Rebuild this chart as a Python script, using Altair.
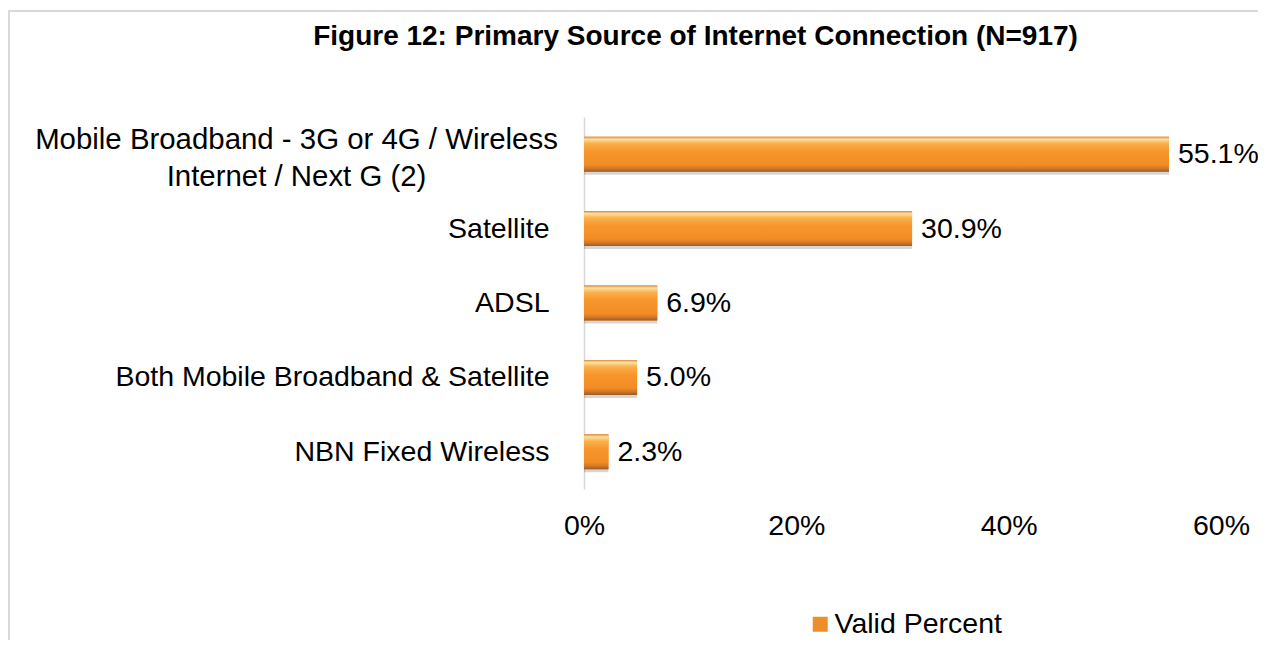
import altair as alt
import pandas as pd

# ---- data ----
categories = [
    "Mobile Broadband - 3G or 4G / Wireless\nInternet /  Next G (2)",
    "Satellite",
    "ADSL",
    "Both Mobile Broadband & Satellite",
    "NBN Fixed Wireless",
]
values = [55.1, 30.9, 6.9, 5.0, 2.3]
series_name = "Valid Percent"
tick_values = [0, 20, 40, 60]
title_text = "Figure 12: Primary Source of Internet Connection (N=917)"

df = pd.DataFrame({
    "cat": categories,
    "v": values,
    "series": [series_name] * len(categories),
})
df["lbl"] = [f"{v:.1f}%" for v in values]

FONT = "Liberation Sans"
FS = 28.5
W, H = 637, 372

yscale = alt.Scale(domain=categories, paddingInner=0.53, paddingOuter=0.265)
xscale = alt.Scale(domain=[0, 60], nice=False, zero=True)
xaxis = alt.Axis(values=tick_values, labelExpr="datum.value + '%'", domain=False,
                 ticks=False, grid=False, labelPadding=22, labelFontSize=FS,
                 labelFont=FONT, labelColor="black", labelFlush=False, title=None)
X = alt.X("v:Q", scale=xscale, axis=xaxis)

def Y(axis=None):
    return alt.Y("cat:N", scale=yscale, axis=axis)

left_axis = alt.Axis(orient="left", domain=True, domainColor="#d9d9d9", domainWidth=1.5,
                     ticks=False, tickSize=0, labelPadding=35, labelAlign="right",
                     labelBaseline="middle", labelFontSize=FS, labelFont=FONT,
                     labelColor="black", labelLimit=2000, title=None,
                     labelExpr="indexof(datum.label, '\\n') >= 0 ? '' : datum.label")

right_axis = alt.Axis(orient="right", offset=-925, domain=False, ticks=False, tickSize=0,
                      labelPadding=0, labelAlign="center", labelBaseline="middle",
                      labelFontSize=29.4, labelFont=FONT, labelColor="black",
                      labelLimit=2000, labelLineHeight=37, labelOffset=-14, title=None,
                      labelExpr="indexof(datum.label, '\\n') >= 0 ? split(datum.label, '\\n') : ''")

legend = alt.Legend(title=None, orient="none", legendX=222, legendY=493,
                    symbolType="square", symbolSize=225, symbolStrokeWidth=0,
                    labelFontSize=FS, labelFont=FONT, labelColor="black",
                    labelOffset=0, labelLimit=2000, padding=0)

gradient = alt.LinearGradient(
    gradient="linear",
    stops=[
        alt.GradientStop(color="#d9883a", offset=0.0),
        alt.GradientStop(color="#fde0a0", offset=0.07),
        alt.GradientStop(color="#f9b04c", offset=0.2),
        alt.GradientStop(color="#f7962a", offset=0.42),
        alt.GradientStop(color="#f28c26", offset=0.8),
        alt.GradientStop(color="#d57a25", offset=0.9),
        alt.GradientStop(color="#9c5c2a", offset=1.0),
    ],
    x1=0, x2=0, y1=0, y2=1,
)

base = alt.Chart(df).mark_bar().encode(
    x=X, y=Y(left_axis),
    color=alt.Color("series:N", scale=alt.Scale(range=["#ef8d2b"]), legend=legend),
)

shadow = alt.Chart(df).mark_bar(color="#000000", opacity=0.16, yOffset=3).encode(
    x=X, y=Y(None)
)

bars = alt.Chart(df).mark_bar(color=gradient).encode(x=X, y=Y(None))

text = alt.Chart(df).mark_text(align="left", baseline="middle", dx=9, fontSize=FS,
                               font=FONT, color="black").encode(
    x=X, y=Y(None), text="lbl:N"
)

right_labels = alt.Chart(df).mark_bar(opacity=0).encode(x=X, y=Y(right_axis))

border_df = pd.DataFrame({"k": [0]})
border_top = alt.Chart(border_df).mark_rule(color="#d9d9d9", strokeWidth=2).encode(
    x=alt.value(-575), x2=alt.value(700), y=alt.value(-106)
)
border_left = alt.Chart(border_df).mark_rule(color="#d9d9d9", strokeWidth=2).encode(
    x=alt.value(-575), y=alt.value(-107), y2=alt.value(560)
)

chart = alt.layer(
    shadow, base, bars, text, right_labels, border_top, border_left
).resolve_axis(y="independent").properties(
    width=W, height=H,
    autosize=alt.AutoSizeParams(type="none"),
    padding={"left": 576, "top": 109, "right": 37, "bottom": 151},
    title=alt.Title(title_text, font=FONT, fontSize=28, fontWeight="bold", color="black",
                    anchor="middle", dx=-207, offset=-64, baseline="alphabetic",
                    frame="group"),
).configure_view(stroke=None)

chart.save("out.html", embed_options={"renderer": "svg", "actions": False})
